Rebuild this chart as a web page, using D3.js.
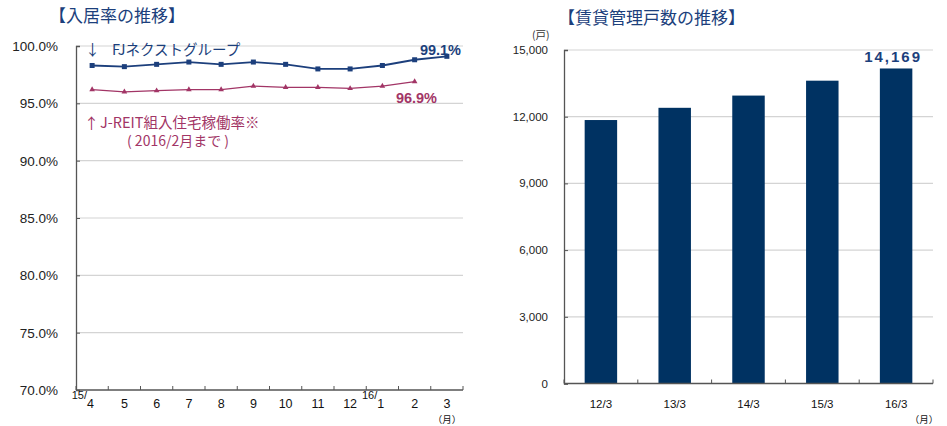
<!DOCTYPE html>
<html>
<head>
<meta charset="utf-8">
<script src="https://cdn.jsdelivr.net/npm/d3@7"></script>
<style>
  body { margin: 0; background: #fff; }
  svg { display: block; font-family: "Liberation Sans", Arial, "Noto Sans CJK JP", sans-serif; }
</style>
</head>
<body>
<svg width="947" height="426"></svg>
<script>
// occupancy chart (left)
var months = ['4', '5', '6', '7', '8', '9', '10', '11', '12', '1', '2', '3']
var fjRate = [98.3, 98.2, 98.4, 98.6, 98.4, 98.6, 98.4, 98.0, 98.0, 98.3, 98.8, 99.1]
var jreitRate = [96.2, 96.0, 96.1, 96.2, 96.2, 96.5, 96.4, 96.4, 96.3, 96.5, 96.9]
var rateTicks = [70, 75, 80, 85, 90, 95, 100]

// managed units chart (right)
var periods = ['12/3', '13/3', '14/3', '15/3', '16/3']
var units = [11850, 12400, 12950, 13620, 14169]
var unitTicks = [0, 3000, 6000, 9000, 12000, 15000]

var navy = '#1c3f7c'
var wine = '#a23566'
var cjk = '"Noto Sans CJK JP", sans-serif'

var svg = d3.select('svg')

//// left chart
var left = { x0: 76, x1: 463, y0: 46, y1: 390 }

var xL = d3.scaleBand().domain(months).range([left.x0, left.x1])
var yL = d3.scaleLinear().domain([70, 100]).range([left.y1, left.y0])

var gL = svg.append('g')

gL.append('text')
    .attr('x', 49).attr('y', 22)
    .style('font-family', cjk).style('font-size', '17px')
    .attr('fill', navy)
    .text('【入居率の推移】')

// gridlines
gL.selectAll('.grid')
    .data(rateTicks.slice(1))
    .enter().append('line')
    .attr('x1', left.x0).attr('x2', left.x1)
    .attr('y1', d => yL(d)).attr('y2', d => yL(d))
    .attr('stroke', '#d4d4d4').attr('stroke-width', 1.2)

var yAxisL = d3.axisRight(yL).tickValues(rateTicks).tickSize(4).tickFormat('')
gL.append('g')
    .attr('transform', 'translate(' + left.x0 + ',0)')
    .call(yAxisL)
    .call(g => g.select('.domain').attr('stroke', '#555').attr('stroke-width', 1.3))
    .call(g => g.selectAll('.tick line').attr('stroke', '#555'))

gL.selectAll('.ylab')
    .data(rateTicks)
    .enter().append('text')
    .attr('x', 58).attr('y', d => yL(d) + 5)
    .attr('text-anchor', 'end')
    .style('font-size', '13.5px').attr('fill', '#222')
    .text(d => d.toFixed(1) + '%')

var xTicks = d3.range(months.length + 1).map(i => left.x0 + i * xL.step())
gL.append('line')
    .attr('x1', left.x0).attr('x2', left.x1)
    .attr('y1', left.y1).attr('y2', left.y1)
    .attr('stroke', '#555').attr('stroke-width', 1.3)
gL.selectAll('.xt')
    .data(xTicks)
    .enter().append('line')
    .attr('x1', d => d).attr('x2', d => d)
    .attr('y1', left.y1).attr('y2', left.y1 - 4)
    .attr('stroke', '#555')

gL.selectAll('.xlab')
    .data(months)
    .enter().append('text')
    .attr('x', d => (d == '4' || d == '1') ? xL(d) + 11 : xL(d) + xL.bandwidth() / 2)
    .attr('y', 408)
    .attr('text-anchor', d => (d == '4' || d == '1') ? 'start' : 'middle')
    .style('font-size', '12.5px').attr('fill', '#111')
    .text(d => d)

gL.append('text').attr('x', xL('4') + 11).attr('y', 399)
    .attr('text-anchor', 'end')
    .style('font-size', '11px').attr('fill', '#111').text('15/')
gL.append('text').attr('x', xL('1') + 11).attr('y', 399)
    .attr('text-anchor', 'end')
    .style('font-size', '11px').attr('fill', '#111').text('16/')
gL.append('text').attr('x', 447).attr('y', 423)
    .attr('text-anchor', 'middle')
    .style('font-family', cjk).style('font-size', '9.5px').attr('fill', '#111').text('（月）')

var line = d3.line()
    .x((d, i) => xL(months[i]) + xL.bandwidth() / 2)
    .y(d => yL(d))

gL.append('path').datum(fjRate)
    .attr('d', line).attr('fill', 'none')
    .attr('stroke', navy).attr('stroke-width', 1.8)
gL.selectAll('.fjpt')
    .data(fjRate)
    .enter().append('rect')
    .attr('x', (d, i) => xL(months[i]) + xL.bandwidth() / 2 - 2.5)
    .attr('y', d => yL(d) - 2.5)
    .attr('width', 5).attr('height', 5)
    .attr('fill', navy)

gL.append('path').datum(jreitRate)
    .attr('d', line).attr('fill', 'none')
    .attr('stroke', wine).attr('stroke-width', 1.3)
gL.selectAll('.jpt')
    .data(jreitRate)
    .enter().append('path')
    .attr('d', d3.symbol().type(d3.symbolTriangle).size(14))
    .attr('transform', (d, i) => 'translate(' + (xL(months[i]) + xL.bandwidth() / 2) + ',' + yL(d) + ')')
    .attr('fill', wine)

gL.append('text').attr('x', 85).attr('y', 55)
    .style('font-family', cjk).style('font-size', '15px').attr('fill', navy).text('↓')
gL.append('text').attr('x', 112).attr('y', 55)
    .style('font-family', cjk).style('font-size', '14.5px').attr('fill', navy).text('FJネクストグループ')
gL.append('text').attr('x', 461).attr('y', 55)
    .attr('text-anchor', 'end')
    .style('font-size', '14.5px').style('font-weight', 'bold').attr('fill', navy)
    .text(fjRate[fjRate.length - 1].toFixed(1) + '%')
gL.append('text').attr('x', 437).attr('y', 103)
    .attr('text-anchor', 'end')
    .style('font-size', '14.5px').style('font-weight', 'bold').attr('fill', wine)
    .text(jreitRate[jreitRate.length - 1].toFixed(1) + '%')
gL.append('text').attr('x', 84).attr('y', 129)
    .style('font-family', cjk).style('font-size', '15px').attr('fill', wine).text('↑')
gL.append('text').attr('x', 100).attr('y', 128)
    .style('font-family', cjk).style('font-size', '14.5px').attr('fill', wine).text('J-REIT組入住宅稼働率※')
gL.append('text').attr('x', 127).attr('y', 146)
    .style('font-family', cjk).style('font-size', '14px').attr('fill', wine).text('(  2016/2月まで  )')

//// right chart
var right = { x0: 564, x1: 933, y0: 50, y1: 383.5 }

var xR = d3.scaleBand().domain(periods).range([right.x0, right.x1]).paddingInner(0.56).paddingOuter(0.28)
var xTickR = d3.scaleBand().domain(periods).range([right.x0, right.x1])
var yR = d3.scaleLinear().domain([0, 15000]).range([right.y1, right.y0])

var gR = svg.append('g')

gR.append('text')
    .attr('x', 558).attr('y', 24)
    .style('font-family', cjk).style('font-size', '17px')
    .attr('fill', navy)
    .text('【賃貸管理戸数の推移】')
gR.append('text').attr('x', 532).attr('y', 39)
    .style('font-family', cjk).style('font-size', '10.5px').attr('fill', '#333').text('(戸)')

gR.selectAll('.grid')
    .data(unitTicks.slice(1))
    .enter().append('line')
    .attr('x1', right.x0).attr('x2', right.x1)
    .attr('y1', d => yR(d)).attr('y2', d => yR(d))
    .attr('stroke', '#d4d4d4').attr('stroke-width', 1.2)

gR.append('g')
    .attr('transform', 'translate(' + right.x0 + ',0)')
    .call(d3.axisRight(yR).tickValues(unitTicks).tickSize(4).tickFormat(''))
    .call(g => g.select('.domain').attr('stroke', '#555').attr('stroke-width', 1.3))
    .call(g => g.selectAll('.tick line').attr('stroke', '#555'))

gR.selectAll('.ylab')
    .data(unitTicks)
    .enter().append('text')
    .attr('x', 548).attr('y', d => yR(d) + 4)
    .attr('text-anchor', 'end')
    .style('font-size', '11.5px').attr('fill', '#222')
    .text(d => d3.format(',')(d))

gR.selectAll('.bar')
    .data(units)
    .enter().append('rect')
    .attr('x', (d, i) => xR(periods[i]))
    .attr('y', d => yR(d))
    .attr('width', xR.bandwidth())
    .attr('height', d => yR(0) - yR(d))
    .attr('fill', '#003262')

gR.append('line')
    .attr('x1', right.x0).attr('x2', right.x1)
    .attr('y1', right.y1).attr('y2', right.y1)
    .attr('stroke', '#555').attr('stroke-width', 1.3)
gR.selectAll('.xt')
    .data(d3.range(periods.length + 1).map(i => right.x0 + i * xTickR.step()))
    .enter().append('line')
    .attr('x1', d => d).attr('x2', d => d)
    .attr('y1', right.y1).attr('y2', right.y1 - 4)
    .attr('stroke', '#555')

gR.selectAll('.xlab')
    .data(periods)
    .enter().append('text')
    .attr('x', d => xTickR(d) + xTickR.bandwidth() / 2)
    .attr('y', 408)
    .attr('text-anchor', 'middle')
    .style('font-size', '11.5px').attr('fill', '#111')
    .text(d => d)
gR.append('text').attr('x', 924).attr('y', 423)
    .attr('text-anchor', 'middle')
    .style('font-family', cjk).style('font-size', '9.5px').attr('fill', '#111').text('（月）')

gR.append('text')
    .attr('x', xR(periods[4]) + xR.bandwidth() / 2 - 3)
    .attr('y', 62)
    .attr('text-anchor', 'middle')
    .style('font-size', '15px').style('font-weight', 'bold').style('letter-spacing', '2px')
    .attr('fill', navy)
    .text(d3.format(',')(units[4]))
</script>
</body>
</html>
